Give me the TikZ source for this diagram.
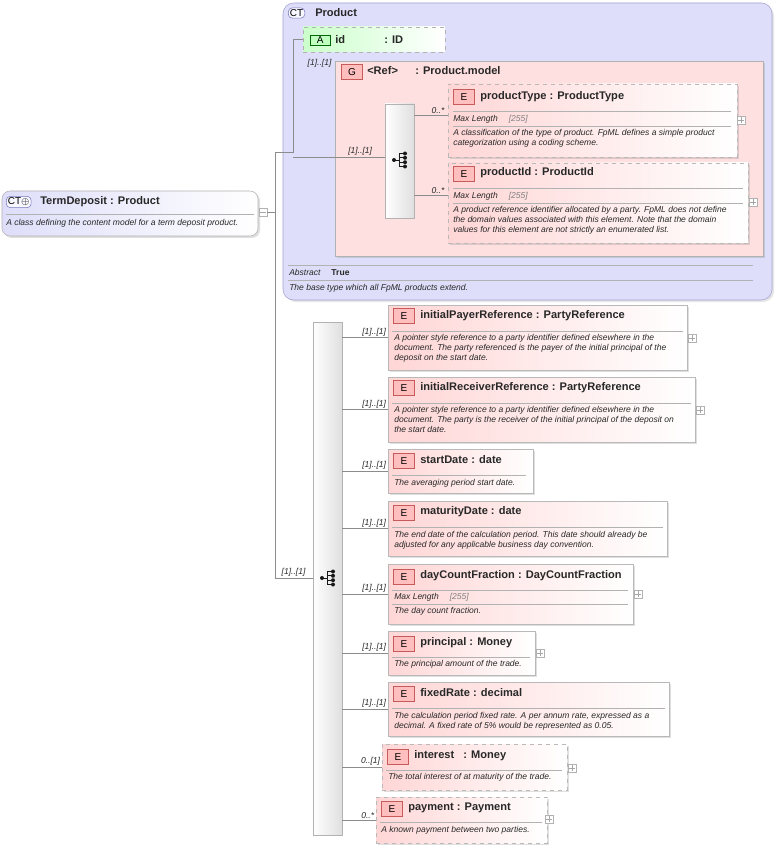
\documentclass[tikz,border=0pt]{standalone}
\usepackage{fontspec}
\setmainfont{Liberation Sans}
\usetikzlibrary{fit,shadows}
\definecolor{ctblue}{RGB}{222,222,250}
\definecolor{ctline}{RGB}{120,120,190}
\definecolor{grppink}{RGB}{255,224,224}
\definecolor{elpink}{RGB}{255,214,214}
\definecolor{badgered}{RGB}{200,90,90}
\definecolor{attgreen}{RGB}{225,255,225}
\definecolor{wire}{RGB}{140,140,140}
\definecolor{txtgray}{RGB}{40,40,40}

\tikzset{
  elbox/.style={draw=gray!55, left color=elpink, right color=white, inner sep=0pt,
    drop shadow={opacity=0.25, shadow xshift=1.5pt, shadow yshift=-1.5pt}},
  optbox/.style={elbox, dashed},
  badge/.style={draw=badgered, fill=red!25, font=\fontsize{7.5}{8}\selectfont, inner sep=0pt,
    minimum width=16pt, minimum height=11pt, anchor=west},
  ttl/.style={font=\fontsize{8.3}{9}\selectfont\bfseries, text=txtgray, anchor=west, inner sep=0pt},
  dsc/.style={font=\fontsize{6.4}{7.6}\selectfont\itshape, text=txtgray, align=left, anchor=north west, inner sep=0pt},
  mlen/.style={font=\fontsize{6.4}{7}\selectfont\itshape, text=txtgray, anchor=west, inner sep=0pt},
  mult/.style={font=\fontsize{6.4}{7}\selectfont\itshape, text=txtgray, anchor=south east, inner sep=1pt},
  sep/.style={draw=gray!60, line width=0.5pt},
  wire/.style={draw=wire, line width=0.5pt},
  plusbox/.style={draw=gray!60, fill=white, minimum size=6pt, inner sep=0pt,
    path picture={\draw[gray!70] (path picture bounding box.west) ++(1pt,0) -- ++(4pt,0);
      \draw[gray!70] (path picture bounding box.south) ++(0,1pt) -- ++(0,4pt);}},
  seqbox/.style={draw=gray!60, left color=white, right color=gray!25, inner sep=0pt},
  ctbadge/.style={draw=ctline, fill=ctblue!80!blue!10, rounded corners=3pt,
    font=\fontsize{7.5}{8}\selectfont, inner sep=1.2pt, anchor=west},
}
\newcommand{\seqicon}[1]{%
  \begin{scope}[shift={#1}]
    \fill[gray!20!black] (-7,0) circle (2);
    \draw[gray!20!black, line width=0.7pt] (-7,0) -- (-2,0) (-2,-6.5) -- (-2,6.5)
      (-2,-6.5) -- (4,-6.5) (-2,-2.2) -- (4,-2.2) (-2,2.2) -- (4,2.2) (-2,6.5) -- (4,6.5);
    \foreach \d in {-6.5,-2.2,2.2,6.5} \fill[gray!20!black] (4,\d) circle (2);
  \end{scope}
}

\begin{document}
\begin{tikzpicture}[x=0.75pt, y=-0.75pt]
  \useasboundingbox (0,0) rectangle (777,848);

  % TermDeposit complex type
  \node[draw=gray!60, rounded corners=6pt, left color=ctblue, right color=white, inner sep=0pt,
    drop shadow={opacity=0.25, shadow xshift=1.5pt, shadow yshift=-1.5pt},
    fit={(2,191)(258,236)}] (td) {};
  \node[ctbadge] at (6,202) {CT$\oplus$};
  \node[ttl] at (40,202) {TermDeposit : Product};
  \draw[sep] (6,214) -- (254,214);
  \node[dsc] at (6,219) {A class defining the content model for a term deposit product.};
  \node[plusbox, path picture={\draw[gray!70] (path picture bounding box.west) ++(1pt,0) -- ++(4pt,0);}] (tdm) at (263,212) {};

  % Product base type
  \node[draw=ctline!70, rounded corners=8pt, fill=ctblue, inner sep=0pt,
    drop shadow={opacity=0.2, shadow xshift=1.5pt, shadow yshift=-1.5pt},
    fit={(283,3)(772,300)}] (prod) {};
  \node[ctbadge] at (288,13) {CT};
  \node[ttl] at (315,13) {Product};

  % id attribute
  \node[draw=gray!60, dashed, left color=attgreen!80!green!70, right color=white, inner sep=0pt, fit={(303,27)(445,52)}] (idatt) {};
  \node[draw=green!40!black, fill=green!25, font=\fontsize{7.5}{8}\selectfont, inner sep=1pt,
    minimum width=15pt, anchor=west] at (310,40) {A};
  \node[ttl] at (335,40) {id};
  \node[ttl] at (384,40) {: ID};

  % Product.model group
  \node[draw=gray!60, fill=grppink, inner sep=0pt,
    drop shadow={opacity=0.25, shadow xshift=1.5pt, shadow yshift=-1.5pt},
    fit={(335,61)(763,256)}] (grp) {};
  \node[badge] at (341,72) {G};
  \node[ttl] at (367,71) {<Ref>};
  \node[ttl] at (415,71) {: Product.model};
  \node[seqbox, fit={(385,104)(414,218)}] (seqa) {};
  \seqicon{(401,160)}

  \node[optbox, fit={(448,84)(737,157)}] (ptype) {};
  \node[badge] at (453,97) {E};
  \node[ttl] at (480,97) {productType : ProductType};
  \draw[sep] (453,111) -- (731,111);
  \node[mlen] at (453,119) {Max Length \quad\textcolor{gray}{[255]}};
  \draw[sep] (453,126) -- (731,126);
  \node[dsc] at (453,129) {A classification of the type of product. FpML defines a simple product\\categorization using a coding scheme.};
  \node[plusbox] at (741,120) {};

  \node[optbox, fit={(448,163)(748,243)}] (pid) {};
  \node[badge] at (453,174) {E};
  \node[ttl] at (480,173) {productId : ProductId};
  \draw[sep] (453,188) -- (743,188);
  \node[mlen] at (453,196) {Max Length \quad\textcolor{gray}{[255]}};
  \draw[sep] (453,203) -- (743,203);
  \node[dsc] at (453,206) {A product reference identifier allocated by a party. FpML does not define\\the domain values associated with this element. Note that the domain\\values for this element are not strictly an enumerated list.};
  \node[plusbox] at (753,202) {};

  \draw[sep] (288,265) -- (753,265);
  \node[mlen] at (289,272) {Abstract \quad\upshape\bfseries True};
  \draw[sep] (288,280) -- (753,280);
  \node[dsc] at (289,284) {The base type which all FpML products extend.};

  % product connectors
  \coordinate (split) at (275,152);
  \draw[wire] (tdm.east) -- (275,212) |- (split) -- (293,152) |- (idatt.west);
  \draw[wire] (293,157) -- node[mult, pos=0.88] {[1]..[1]} (seqa.west |- 0,157);
  \node[mult] at (333,69) {[1]..[1]};
  \draw[wire] (seqa.east |- 0,115) -- node[mult, pos=0.95] {0..*} (ptype.west |- 0,115);
  \draw[wire] (seqa.east |- 0,195) -- node[mult, pos=0.95] {0..*} (pid.west |- 0,195);

  % TermDeposit sequence
  \node[seqbox, fit={(313,322)(342,835)}] (seqb) {};
  \seqicon{(329,578)}
  \draw[wire] (275,212) -- (275,578) -- node[mult, pos=0.85] {[1]..[1]} (seqb.west |- 0,578);

  \node[elbox, fit={(388,305)(687,370)}] (ipr) {};
  \node[badge] at (393,316) {E};
  \node[ttl] at (420,316) {initialPayerReference : PartyReference};
  \draw[sep] (392,331) -- (683,331);
  \node[dsc] at (394,334) {A pointer style reference to a party identifier defined elsewhere in the\\document. The party referenced is the payer of the initial principal of the\\deposit on the start date.};
  \node[plusbox] at (692,338) {};

  \node[elbox, fit={(388,377)(695,442)}] (irr) {};
  \node[badge] at (393,388) {E};
  \node[ttl] at (420,388) {initialReceiverReference : PartyReference};
  \draw[sep] (392,403) -- (691,403);
  \node[dsc] at (394,406) {A pointer style reference to a party identifier defined elsewhere in the\\document. The party is the receiver of the initial principal of the deposit on\\the start date.};
  \node[plusbox] at (700,410) {};

  \node[elbox, fit={(388,449)(533,493)}] (sd) {};
  \node[badge] at (393,461) {E};
  \node[ttl] at (420,460) {startDate : date};
  \draw[sep] (392,475) -- (526,475);
  \node[dsc] at (394,479) {The averaging period start date.};

  \node[elbox, fit={(388,501)(667,556)}] (md) {};
  \node[badge] at (393,513) {E};
  \node[ttl] at (420,512) {maturityDate : date};
  \draw[sep] (392,527) -- (663,527);
  \node[dsc] at (394,531) {The end date of the calculation period. This date should already be\\adjusted for any applicable business day convention.};

  \node[elbox, fit={(388,564)(633,624)}] (dcf) {};
  \node[badge] at (393,577) {E};
  \node[ttl] at (420,576) {dayCountFraction : DayCountFraction};
  \draw[sep] (392,590) -- (628,590);
  \node[mlen] at (394,597) {Max Length \quad\textcolor{gray}{[255]}};
  \draw[sep] (392,604) -- (628,604);
  \node[dsc] at (394,607) {The day count fraction.};
  \node[plusbox] at (638,594) {};

  \node[elbox, fit={(388,631)(535,675)}] (prin) {};
  \node[badge] at (393,644) {E};
  \node[ttl] at (420,643) {principal : Money};
  \draw[sep] (392,657) -- (530,657);
  \node[dsc] at (394,660) {The principal amount of the trade.};
  \node[plusbox] at (540,653) {};

  \node[elbox, fit={(388,682)(669,736)}] (fr) {};
  \node[badge] at (393,694) {E};
  \node[ttl] at (420,693) {fixedRate : decimal};
  \draw[sep] (392,708) -- (665,708);
  \node[dsc] at (394,712) {The calculation period fixed rate. A per annum rate, expressed as a\\decimal. A fixed rate of 5\% would be represented as 0.05.};

  \node[optbox, fit={(382,744)(567,790)}] (intr) {};
  \node[badge] at (387,757) {E};
  \node[ttl] at (414,756) {interest \ \ : Money};
  \draw[sep] (386,770) -- (562,770);
  \node[dsc] at (388,773) {The total interest of at maturity of the trade.};
  \node[plusbox] at (572,768) {};

  \node[optbox, fit={(376,797)(547,843)}] (pay) {};
  \node[badge] at (381,809) {E};
  \node[ttl] at (408,808) {payment : Payment};
  \draw[sep] (380,822) -- (542,822);
  \node[dsc] at (381,826) {A known payment between two parties.};
  \node[plusbox] at (549,819) {};

  % sequence connectors
  \foreach \el/\m in {ipr/{[1]..[1]}, irr/{[1]..[1]}, sd/{[1]..[1]}, md/{[1]..[1]},
      dcf/{[1]..[1]}, prin/{[1]..[1]}, fr/{[1]..[1]}, intr/{0..[1]}, pay/{0..*}}
    \draw[wire] (seqb.east |- \el.west) -- node[mult, pos=1] {\m} (\el.west);
\end{tikzpicture}
\end{document}
